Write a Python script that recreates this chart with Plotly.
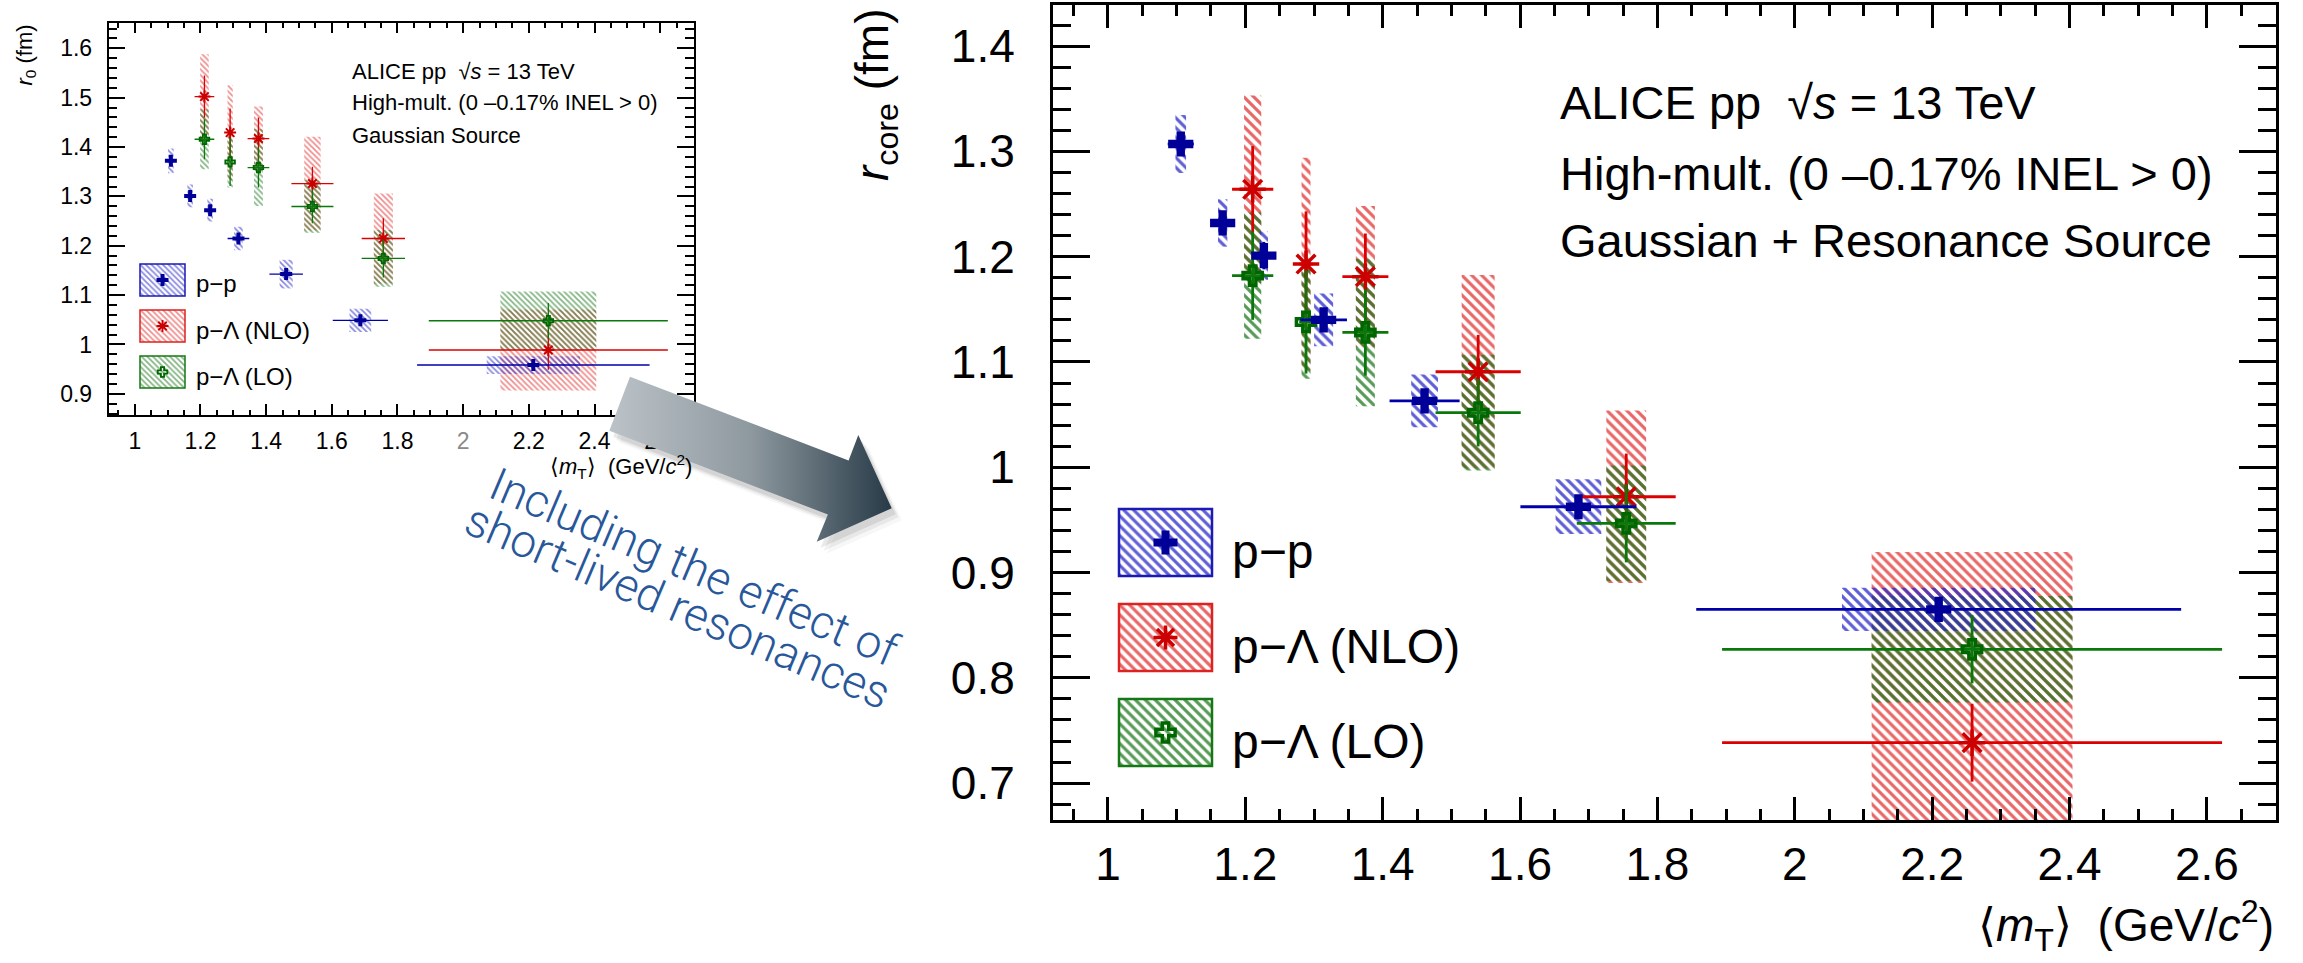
import plotly.graph_objects as go

W, H = 2303, 963

# ---------------- data: Gaussian source radius r0 (small panel) ----------------
mt0_pp = [1.110, 1.1686, 1.2295, 1.3157, 1.461, 1.687, 2.2137]
mt0_pp_err = [0.015, 0.012, 0.012, 0.033, 0.051, 0.084, 0.354]
mt0_pp_box = [0.017, 0.017, 0.017, 0.026, 0.040, 0.066, 0.284]
r0_pp = [1.372, 1.301, 1.272, 1.2147, 1.1425, 1.0488, 0.9583]
r0_pp_stat = [0.008, 0.008, 0.010, 0.008, 0.008, 0.008, 0.008]
r0_pp_sys = [0.025, 0.023, 0.023, 0.0236, 0.029, 0.0236, 0.018]

mt0_pl = [1.2122, 1.2904, 1.3766, 1.541, 1.757, 2.2594]
mt0_pl_err = [0.030, 0.010, 0.033, 0.064, 0.066, 0.364]
mt0_pl_box = [0.026, 0.016, 0.027, 0.050, 0.058, 0.292]
r0_nlo = [1.5022, 1.4293, 1.4172, 1.326, 1.2147, 0.9887]
r0_nlo_stat = [0.043, 0.049, 0.0425, 0.034, 0.041, 0.040]
r0_nlo_sys = [0.086, 0.096, 0.065, 0.095, 0.091, 0.082]
r0_lo = [1.4158, 1.3699, 1.3585, 1.2795, 1.1743, 1.048]
r0_lo_stat = [0.0405, 0.0486, 0.0405, 0.034, 0.0385, 0.036]
r0_lo_sys = [0.061, 0.052, 0.078, 0.053, 0.0575, 0.0595]

# ---------------- data: core radius with resonances (main panel) ----------------
mt_pp = [1.106, 1.167, 1.227, 1.314, 1.461, 1.685, 2.2095]
mt_pp_err = [0.019, 0.012, 0.012, 0.034, 0.051, 0.0845, 0.353]
mt_pp_box = [0.0155, 0.0136, 0.012, 0.0277, 0.039, 0.0665, 0.2816]
rc_pp = [1.307, 1.232, 1.201, 1.140, 1.063, 0.9625, 0.865]
rc_pp_stat = [0.006, 0.008, 0.013, 0.006, 0.006, 0.006, 0.008]
rc_pp_sys = [0.0275, 0.0225, 0.023, 0.025, 0.025, 0.026, 0.0206]

mt_pl = [1.2107, 1.2884, 1.3748, 1.539, 1.7546, 2.2581]
mt_pl_err = [0.030, 0.010, 0.0335, 0.062, 0.072, 0.364]
mt_pl_box = [0.025, 0.013, 0.0277, 0.048, 0.058, 0.2924]
rc_nlo = [1.264, 1.193, 1.181, 1.0907, 0.972, 0.7384]
rc_nlo_stat = [0.041, 0.050, 0.041, 0.035, 0.041, 0.037]
rc_nlo_sys = [0.089, 0.101, 0.067, 0.092, 0.082, 0.181]
rc_lo = [1.182, 1.138, 1.128, 1.0518, 0.9467, 0.8271]
rc_lo_stat = [0.042, 0.049, 0.041, 0.032, 0.037, 0.0324]
rc_lo_sys = [0.060, 0.054, 0.070, 0.055, 0.055, 0.0506]

# ---------------- axis ticks and labels ----------------
x_dtick, x_minor = 0.2, 0.05
y_dtick, y_minor = 0.1, 0.02
x_label_alias_small = {"2": "<span style='color:#8a8a8a'>2</span>"}

legend_labels = ["p\u2212p", "p\u2212\u039b (NLO)", "p\u2212\u039b (LO)"]

FONT = "Liberation Sans, Arial, Helvetica, sans-serif"

# series styles: marker colour, line colour, hatch colour, box border, marker symbol
STYLE = {
    "pp":  dict(mc="#000099", lc="#0000aa", hc="#2828c8", bc="#1a1ab4", sym="cross"),
    "nlo": dict(mc="#cc0000", lc="#dd0000", hc="#e13232", bc="#dd2222", sym="asterisk-open"),
    "lo":  dict(mc="#006600", lc="#0b780b", hc="#1e781e", bc="#147814", sym="cross-open"),
}


def px_x(p):
    return p / W


def px_y(p):
    return 1 - p / H


fig = go.Figure()


def add_boxes(xs, ys, sys, widths, key, xa, ya, size, solid, opac):
    st = STYLE[key]
    fig.add_trace(go.Bar(
        x=xs, y=[2 * s for s in sys], base=[v - s for v, s in zip(ys, sys)],
        width=widths, xaxis=xa, yaxis=ya, showlegend=False, hoverinfo="skip",
        marker=dict(color="rgba(0,0,0,0)", line=dict(width=0),
                    pattern=dict(shape="\\", fgcolor=st["hc"], fgopacity=opac,
                                 bgcolor="rgba(0,0,0,0)", size=size,
                                 solidity=solid, fillmode="overlay")),
    ))


def marker_for(key, msize, lw):
    st = STYLE[key]
    if st["sym"] == "cross":
        return dict(symbol="cross", size=msize, color=st["mc"], line=dict(width=0))
    return dict(symbol=st["sym"], size=msize, color=st["mc"],
                line=dict(width=lw, color=st["mc"]))


def add_points(xs, ys, stat, xerr, key, xa, ya, msize, lw, ew):
    st = STYLE[key]
    fig.add_trace(go.Scatter(
        x=xs, y=ys, mode="markers", xaxis=xa, yaxis=ya, showlegend=False,
        marker=marker_for(key, msize, lw),
        error_y=dict(type="data", array=stat, color=st["lc"], thickness=ew, width=0),
        error_x=dict(type="data", array=xerr, color=st["lc"], thickness=ew, width=0),
    ))


# ---- small panel: Gaussian source ----
add_boxes(mt0_pl, r0_nlo, r0_nlo_sys, mt0_pl_box, "nlo", "x", "y", 4, 0.45, 0.55)
add_boxes(mt0_pl, r0_lo, r0_lo_sys, mt0_pl_box, "lo", "x", "y", 4, 0.45, 0.55)
add_boxes(mt0_pp, r0_pp, r0_pp_sys, mt0_pp_box, "pp", "x", "y", 4, 0.45, 0.55)
add_points(mt0_pl, r0_nlo, r0_nlo_stat, mt0_pl_err, "nlo", "x", "y", 10, 2, 1.3)
add_points(mt0_pl, r0_lo, r0_lo_stat, mt0_pl_err, "lo", "x", "y", 8, 1.8, 1.3)
add_points(mt0_pp, r0_pp, r0_pp_stat, mt0_pp_err, "pp", "x", "y", 10, 1.8, 1.3)

# ---- main panel: Gaussian + resonance source ----
add_boxes(mt_pl, rc_nlo, rc_nlo_sys, mt_pl_box, "nlo", "x2", "y2", 7, 0.45, 0.75)
add_boxes(mt_pl, rc_lo, rc_lo_sys, mt_pl_box, "lo", "x2", "y2", 7, 0.45, 0.75)
add_boxes(mt_pp, rc_pp, rc_pp_sys, mt_pp_box, "pp", "x2", "y2", 7, 0.45, 0.75)
add_points(mt_pl, rc_nlo, rc_nlo_stat, mt_pl_err, "nlo", "x2", "y2", 22, 3.5, 2.8)
add_points(mt_pl, rc_lo, rc_lo_stat, mt_pl_err, "lo", "x2", "y2", 16, 3.5, 2.8)
add_points(mt_pp, rc_pp, rc_pp_stat, mt_pp_err, "pp", "x2", "y2", 21, 3, 2.8)

# empty traces so the minor-tick axes get their own subplots
for xa, ya in [("x4", "y2"), ("x2", "y4"), ("x5", "y"), ("x", "y5")]:
    fig.add_trace(go.Scatter(x=[], y=[], xaxis=xa, yaxis=ya, showlegend=False,
                             hoverinfo="skip"))

# ---- overlay in pixel units: legends and the arrow ----
keys = ["pp", "nlo", "lo"]


def add_legend(x0, x1, tops, h, msizes, lw, size, opac, border, label_x, fsize, dy):
    for key, top, label, ms in zip(keys, tops, legend_labels, msizes):
        st = STYLE[key]
        fig.add_trace(go.Bar(
            x=[(x0 + x1) / 2], y=[h], base=[top], width=[x1 - x0],
            xaxis="x3", yaxis="y3", showlegend=False, hoverinfo="skip",
            marker=dict(color="rgba(0,0,0,0)", line=dict(width=border, color=st["bc"]),
                        pattern=dict(shape="\\", fgcolor=st["hc"], fgopacity=opac,
                                     bgcolor="rgba(0,0,0,0)", size=size,
                                     solidity=0.45, fillmode="overlay")),
        ))
        fig.add_trace(go.Scatter(x=[(x0 + x1) / 2], y=[top + h / 2], mode="markers",
                                 xaxis="x3", yaxis="y3", showlegend=False,
                                 marker=marker_for(key, ms, lw), hoverinfo="skip"))
        fig.add_annotation(x=px_x(label_x), y=px_y(top + h / 2 + dy), xref="paper",
                           yref="paper", text=label, showarrow=False, xanchor="left",
                           yanchor="middle", font=dict(size=fsize, color="black", family=FONT))


add_legend(1119, 1212, [509, 604, 699], 67, [20, 20, 16], 3.5, 7, 0.75, 2.5, 1230, 48, 9)
add_legend(140, 185, [264, 310, 356], 32, [10, 10, 8], 1.8, 4, 0.55, 1.5, 194, 24, 4)

# arrow outline (pixel coordinates) with a soft drop shadow
arrow_x = [630, 848.6, 858.3, 891.7, 816.7, 827.9, 609.3, 630]
arrow_y = [376.7, 460.5, 435, 508.3, 541.7, 514.5, 430.7, 376.7]
for dx, dy, a in [(10, 12, 0.04), (7, 9, 0.07), (4, 6, 0.10)]:
    fig.add_trace(go.Scatter(x=[v + dx for v in arrow_x], y=[v + dy for v in arrow_y],
                             mode="lines", fill="toself", line=dict(width=0),
                             fillcolor="rgba(40,40,40,%.2f)" % a,
                             xaxis="x3", yaxis="y3", showlegend=False, hoverinfo="skip"))
fig.add_trace(go.Scatter(
    x=arrow_x, y=arrow_y, mode="lines", fill="toself", line=dict(width=0),
    fillgradient=dict(type="horizontal",
                      colorscale=[[0, "#bcc3c8"], [0.5, "#8e999f"], [1, "#273a47"]]),
    xaxis="x3", yaxis="y3", showlegend=False, hoverinfo="skip"))


# ---------------- axes ----------------
def frame_axis(domain, rng, dtick, anchor, tick_len, width, fsize, standoff, alias=None):
    ax = dict(domain=domain, range=rng, anchor=anchor, tickmode="linear", tick0=0,
              dtick=dtick, ticks="inside", ticklen=tick_len,
              tickwidth=width, tickcolor="black",
              showline=True, linewidth=width, linecolor="black", mirror="ticks",
              showgrid=False, zeroline=False,
              tickfont=dict(size=fsize, color="black", family=FONT),
              ticklabelstandoff=standoff)
    if alias:
        ax["labelalias"] = alias
    return ax


def minor_axis(base, anchor, rng, dtick, tick_len, width, side):
    return dict(overlaying=base, anchor=anchor, range=rng, side=side, tickmode="linear",
                tick0=0, dtick=dtick, ticks="inside", ticklen=tick_len, tickwidth=width,
                tickcolor="black", showticklabels=False, showline=True, linewidth=width,
                linecolor="black", mirror="ticks", showgrid=False, zeroline=False,
                fixedrange=True)


small_xdom = [px_x(108.5), px_x(694)]
small_ydom = [px_y(415), px_y(22.7)]
main_xdom = [px_x(1053), px_x(2276)]
main_ydom = [px_y(820), px_y(5)]

small_xrange = [0.92, 2.703]
small_yrange = [0.857, 1.652]
main_xrange = [0.92, 2.7006]
main_yrange = [0.665, 1.439]

fig.update_layout(
    xaxis=frame_axis(small_xdom, small_xrange, x_dtick, "y", 11, 1.5, 23, 5,
                     alias=x_label_alias_small),
    yaxis=frame_axis(small_ydom, small_yrange, y_dtick, "x", 17, 1.5, 23, 10),
    xaxis2=frame_axis(main_xdom, main_xrange, x_dtick, "y2", 23, 3, 46, 2),
    yaxis2=frame_axis(main_ydom, main_yrange, y_dtick, "x2", 37, 3, 46, 26),
    xaxis3=dict(domain=[0, 1], range=[0, W], anchor="y3", visible=False, fixedrange=True),
    yaxis3=dict(domain=[0, 1], range=[H, 0], anchor="x3", visible=False, fixedrange=True),
    xaxis4=minor_axis("x2", "y2", main_xrange, x_minor, 11, 3, "bottom"),
    yaxis4=minor_axis("y2", "x2", main_yrange, y_minor, 18, 3, "left"),
    xaxis5=minor_axis("x", "y", small_xrange, x_minor, 5.5, 1.5, "bottom"),
    yaxis5=minor_axis("y", "x", small_yrange, y_minor, 9, 1.5, "left"),
    barmode="overlay",
    width=W, height=H,
    margin=dict(l=0, r=0, t=0, b=0),
    paper_bgcolor="white",
    plot_bgcolor="rgba(0,0,0,0)",
    showlegend=False,
    font=dict(family=FONT, color="black"),
)


# ---------------- text ----------------
def text(x, y, s, size, xanchor="left", yanchor="middle", angle=0, color="black",
         family=FONT, weight=None):
    f = dict(size=size, color=color, family=family)
    if weight is not None:
        f["weight"] = weight
    fig.add_annotation(x=px_x(x), y=px_y(y), xref="paper", yref="paper", text=s,
                       showarrow=False, xanchor=xanchor, yanchor=yanchor,
                       textangle=angle, font=f)


header = ["ALICE pp  \u221a<i>s</i> = 13 TeV",
          "High-mult. (0 \u20130.17% INEL > 0)"]
mt_title = "\u27e8<i>m</i><sub>T</sub>\u27e9  (GeV/<i>c</i><sup>2</sup>)"

# main panel labels
text(1558, 103, header[0], 47)
text(1558, 173, header[1], 47)
text(1558, 240, "Gaussian + Resonance Source", 47)
text(876, 7, "<i>r</i><sub>core</sub> (fm)", 46, xanchor="center", yanchor="top", angle=-90)
text(2276, 925, mt_title, 46, xanchor="right")

# small panel labels
text(350, 71, header[0], 22)
text(350, 103, header[1], 22)
text(350, 136, "Gaussian Source", 22)
text(25, 23, "<i>r</i><sub>0</sub> (fm)", 22, xanchor="center", yanchor="top", angle=-90)
text(694, 466, mt_title, 22, xanchor="right")

# caption along the arrow
text(694, 567, "Including the effect of", 46, xanchor="center", angle=23,
     color="#28579a", family="Roboto, Liberation Sans, sans-serif", weight=300)
text(677.6, 606, "short-lived resonances", 46, xanchor="center", angle=23,
     color="#28579a", family="Roboto, Liberation Sans, sans-serif", weight=300)

fig.write_html("out.html")
